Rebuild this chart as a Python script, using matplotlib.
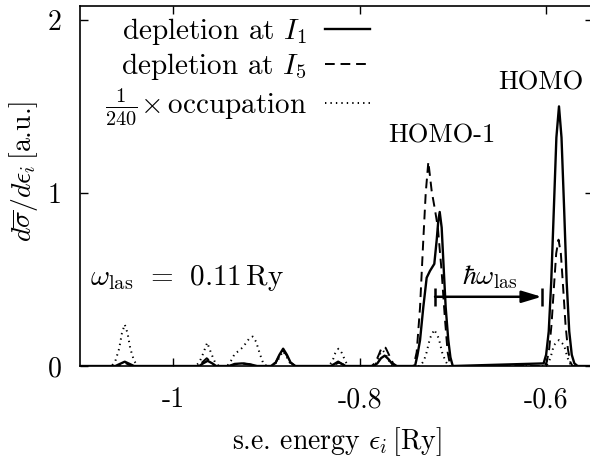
import numpy as np
import matplotlib
matplotlib.use('Agg')
import matplotlib.pyplot as plt

plt.rcParams['font.family'] = ['cmr10', 'DejaVu Serif']
plt.rcParams['mathtext.fontset'] = 'cm'
plt.rcParams['axes.unicode_minus'] = False

# depletion at I1 (solid)
x_i1 = [-1.10, -1.062, -1.058, -1.052, -1.046, -1.042,
        -0.972, -0.968, -0.963, -0.958, -0.954,
        -0.940, -0.934, -0.926, -0.918, -0.910,
        -0.895, -0.890, -0.886, -0.882, -0.878, -0.874, -0.869,
        -0.831, -0.827, -0.823, -0.819, -0.815,
        -0.785, -0.781, -0.777, -0.773, -0.769, -0.765, -0.761,
        -0.7405, -0.738, -0.7351, -0.7316, -0.7280, -0.7244, -0.7198, -0.7172,
        -0.7155, -0.7140, -0.7119, -0.7094, -0.7076, -0.7048, -0.7025, -0.700,
        -0.6025, -0.5998, -0.597, -0.5943, -0.5915, -0.5888, -0.586,
        -0.5833, -0.5805, -0.5778, -0.575, -0.5723, -0.5695, -0.566, -0.55]
y_i1 = [0, 0, 0.01, 0.025, 0.01, 0,
        0, 0.015, 0.03, 0.015, 0,
        0, 0.012, 0.015, 0.01, 0,
        0, 0.02, 0.065, 0.10, 0.065, 0.02, 0,
        0, 0.012, 0.025, 0.012, 0,
        0, 0.015, 0.045, 0.06, 0.04, 0.012, 0,
        0, 0.06, 0.15, 0.34, 0.51, 0.55, 0.59, 0.73,
        0.84, 0.89, 0.80, 0.53, 0.34, 0.15, 0.05, 0,
        0.015, 0.065, 0.20, 0.49, 0.91, 1.32, 1.50,
        1.32, 0.91, 0.49, 0.20, 0.065, 0.015, 0, 0]

# depletion at I5 (dashed)
x_i5 = [-1.10, -1.060, -1.056, -1.052, -1.048, -1.044,
        -0.973, -0.969, -0.964, -0.959, -0.955,
        -0.940, -0.933, -0.925, -0.917, -0.910,
        -0.895, -0.890, -0.886, -0.882, -0.878, -0.874, -0.869,
        -0.830, -0.826, -0.822, -0.818, -0.814,
        -0.787, -0.783, -0.779, -0.776, -0.772, -0.768, -0.764, -0.760,
        -0.742, -0.7387, -0.7351, -0.7316, -0.7290, -0.7262, -0.7226, -0.7190,
        -0.7160, -0.7120, -0.7085, -0.7055, -0.703, -0.700,
        -0.6015, -0.599, -0.5965, -0.594, -0.5915, -0.589, -0.5865,
        -0.584, -0.5815, -0.579, -0.5765, -0.574, -0.5715, -0.55]
y_i5 = [0, 0, 0.008, 0.02, 0.008, 0,
        0, 0.02, 0.045, 0.02, 0,
        0, 0.01, 0.015, 0.008, 0,
        0, 0.02, 0.06, 0.09, 0.06, 0.02, 0,
        0, 0.01, 0.02, 0.01, 0,
        0, 0.02, 0.07, 0.11, 0.105, 0.06, 0.015, 0,
        0, 0.08, 0.34, 0.73, 1.00, 1.18, 1.01, 0.90,
        0.80, 0.55, 0.28, 0.08, 0.01, 0,
        0, 0.025, 0.10, 0.24, 0.45, 0.65, 0.73,
        0.65, 0.45, 0.24, 0.10, 0.025, 0, 0]

# occupation / 240 (dotted)
x_occ = [-1.10, -1.066, -1.062, -1.058, -1.055, -1.052, -1.049, -1.046, -1.042, -1.038,
         -0.976, -0.972, -0.968, -0.9635, -0.959, -0.955, -0.951,
         -0.942, -0.938, -0.934, -0.929, -0.925, -0.921, -0.9175, -0.9146,
         -0.911, -0.907, -0.903, -0.899,
         -0.894, -0.889, -0.885, -0.882, -0.879, -0.875, -0.870,
         -0.833, -0.829, -0.826, -0.8227, -0.819, -0.815, -0.812,
         -0.785, -0.781, -0.778, -0.775, -0.772, -0.768, -0.765,
         -0.735, -0.731, -0.728, -0.7245, -0.7198, -0.715, -0.7115, -0.708, -0.7045,
         -0.600, -0.597, -0.5945, -0.5915, -0.586, -0.5805, -0.5775, -0.575, -0.572, -0.55]
y_occ = [0, 0, 0.03, 0.10, 0.19, 0.24, 0.19, 0.10, 0.03, 0,
         0, 0.02, 0.07, 0.135, 0.07, 0.02, 0,
         0, 0.03, 0.07, 0.09, 0.11, 0.14, 0.165, 0.17,
         0.14, 0.07, 0.01, 0,
         0, 0.02, 0.06, 0.085, 0.06, 0.02, 0,
         0, 0.03, 0.075, 0.10, 0.075, 0.025, 0,
         0, 0.025, 0.07, 0.09, 0.07, 0.025, 0,
         0, 0.03, 0.08, 0.16, 0.21, 0.16, 0.08, 0.03, 0,
         0, 0.02, 0.06, 0.12, 0.15, 0.12, 0.06, 0.02, 0, 0]

labels = [r'depletion at $I_1$', r'depletion at $I_5$', r'$\frac{1}{240}\!\times$occupation']

fig = plt.figure(figsize=(5.9, 4.57), dpi=100)
# x range runs slightly past the right edge of the picture, as in the original crop
ax = fig.add_axes([0.1356, 0.1991, 0.8687, 0.7878])

ax.plot(x_i1, y_i1, color='black', lw=1.7, label=labels[0])
ax.plot(x_i5, y_i5, color='black', lw=1.4, dashes=(5, 3), label=labels[1])
ax.plot(x_occ, y_occ, color='black', lw=1.4, dashes=(0.7, 2.1), label=labels[2])

ax.set_xlim(-1.1, -0.55)
ax.set_ylim(0, 2.08)
ax.set_xticks([-1, -0.8, -0.6])
ax.set_xticklabels(['-1', '-0.8', '-0.6'])
ax.set_yticks([0, 1, 2])
ax.set_yticklabels(['0', '1', '2'])
ax.tick_params(direction='in', length=6, width=1, top=True, right=True, labelsize=20)
ax.tick_params(axis='x', pad=15)
ax.tick_params(axis='y', pad=13)
for s in ax.spines.values():
    s.set_linewidth(1.2)

ax.set_xlabel(r's.e. energy $\epsilon_i\,$[Ry]', fontsize=20, va='center')
ax.set_ylabel(r'$d\overline{\sigma}/d\epsilon_i\,$[a.u.]', fontsize=20)
ax.xaxis.set_label_coords(0.5, -0.21)
ax.yaxis.set_label_coords(-0.078, 0.54)

ax.text(-0.7118, 1.33, 'HOMO-1', fontsize=19, ha='center', va='center')
ax.text(-0.605, 1.64, 'HOMO', fontsize=19, ha='center', va='center')
ax.text(-1.089, 0.51, r'$\omega_{\rm las}\;\,=\;\,0.11\,{\rm Ry}$', fontsize=21, ha='left', va='center')
ax.text(-0.66, 0.515, r'$\hbar\omega_{\rm las}$', fontsize=20, ha='center', va='center')

ax.annotate('', xy=(-0.6046, 0.40), xytext=(-0.719, 0.40),
            arrowprops=dict(arrowstyle='-|>,head_length=0.6,head_width=0.18',
                            color='black', lw=1.8, shrinkA=0, shrinkB=0, mutation_scale=20))
ax.plot([-0.719, -0.6046], [0.40, 0.40], ls='none', marker='|', ms=13, mew=1.8, color='black')

ax.legend(loc='upper right', bbox_to_anchor=(0.597, 1.017), frameon=False, markerfirst=False,
          fontsize=21, handlelength=1.55, handletextpad=0.6, labelspacing=0.15,
          borderaxespad=0.15)

fig.savefig('out.png', dpi=100)
